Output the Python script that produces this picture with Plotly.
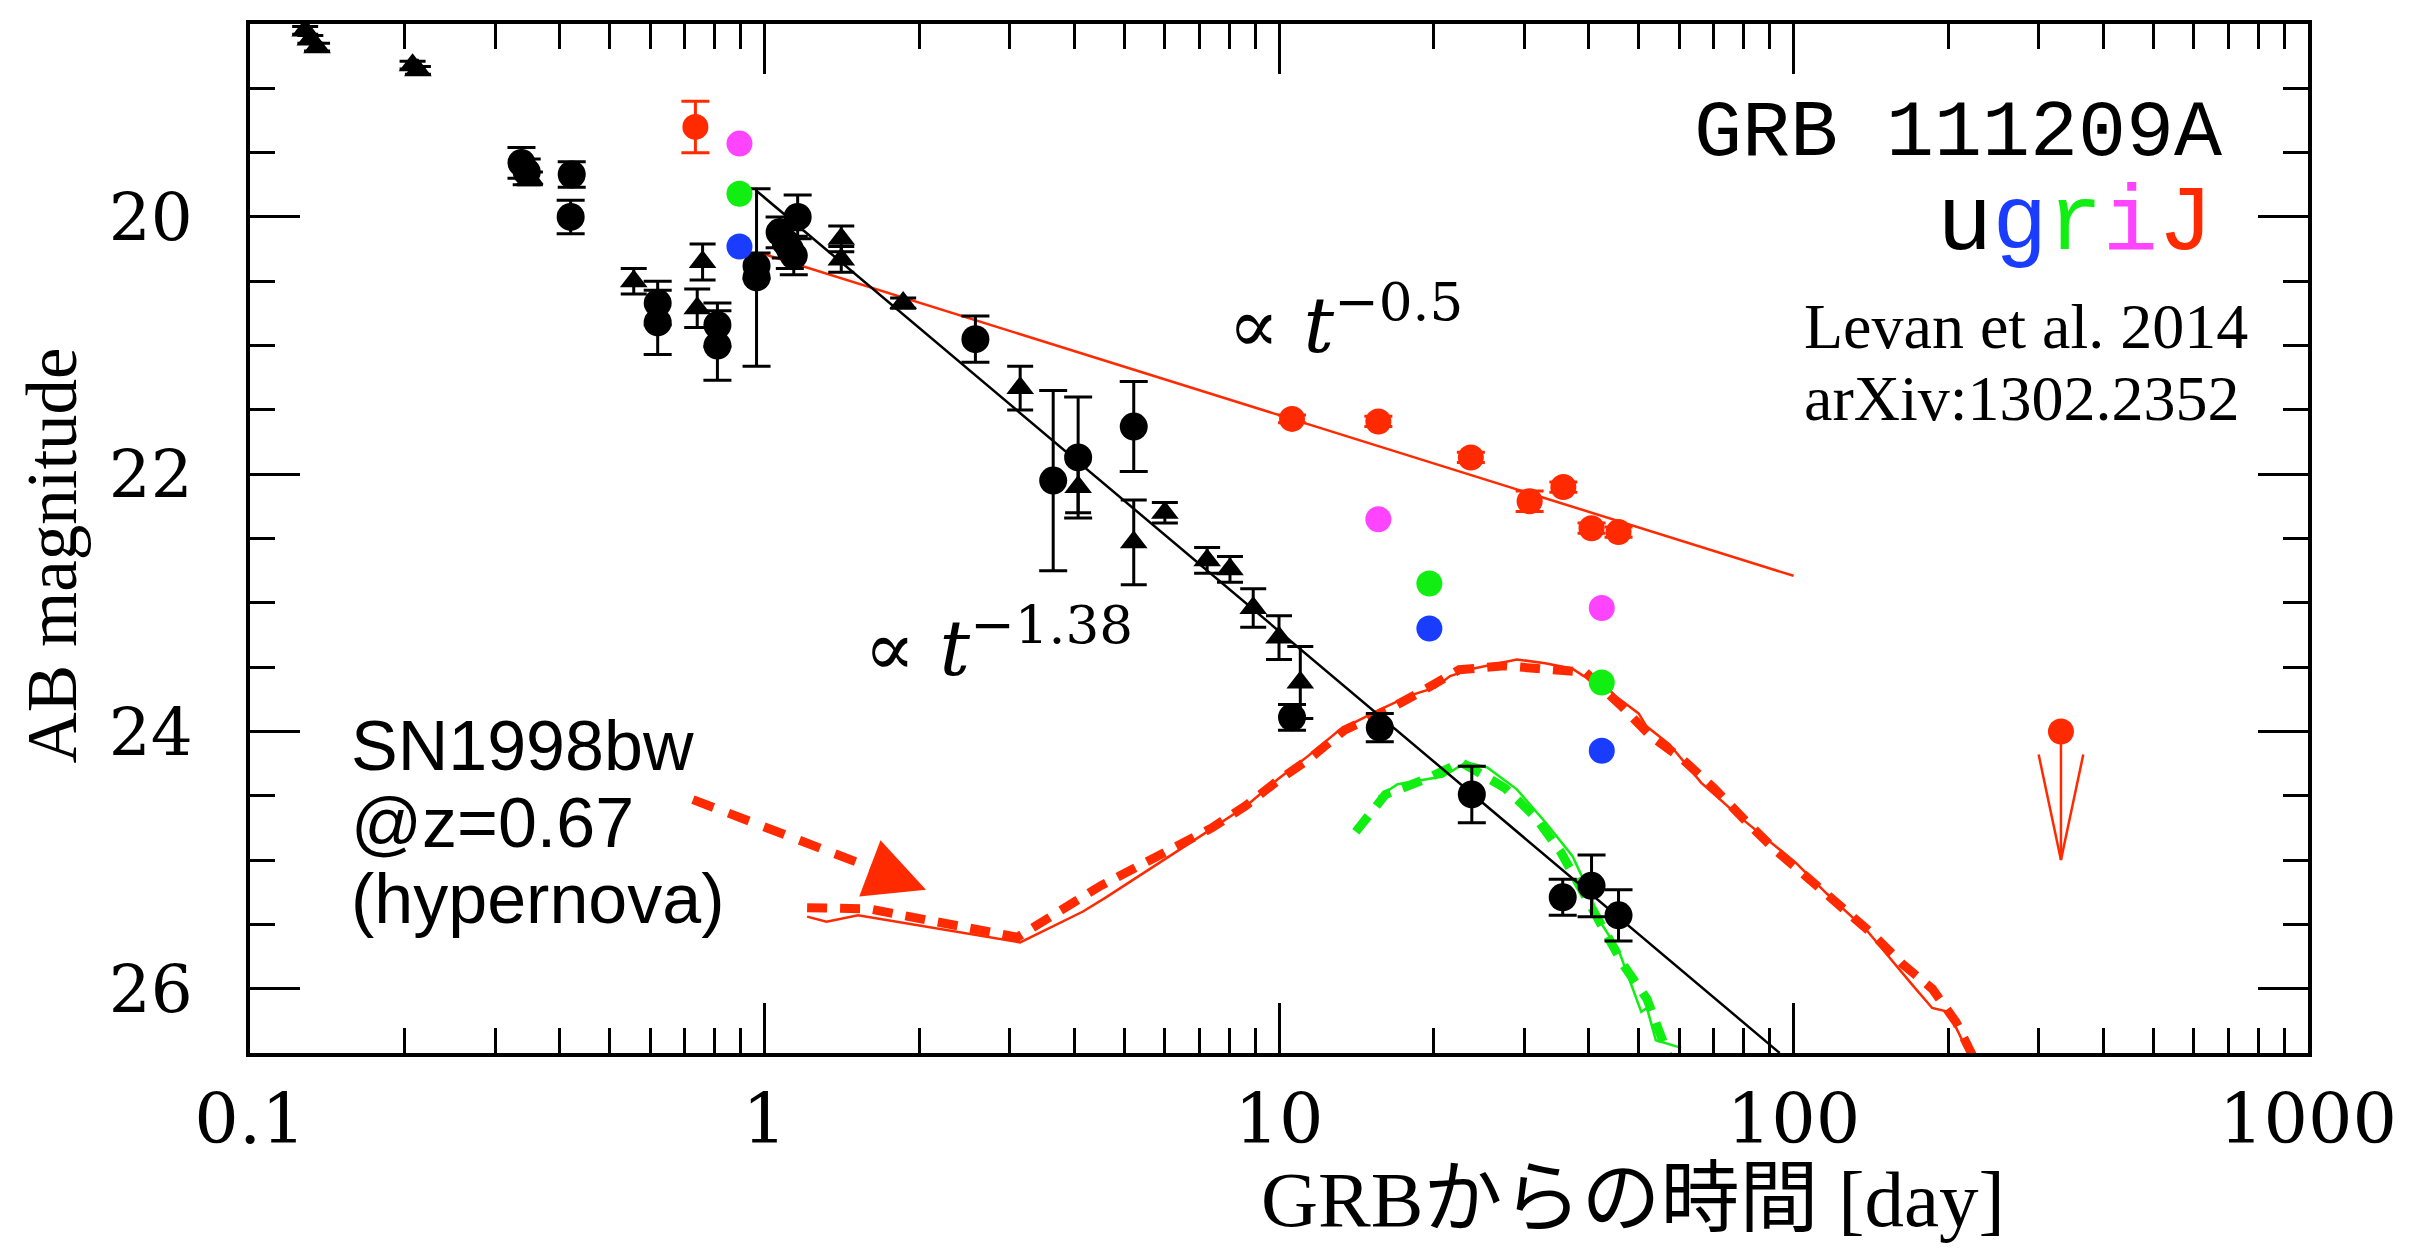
import numpy as np
import plotly.graph_objects as go

# ---------------- data ----------------
# black circles (optical/NIR afterglow, days, AB mag, error)
circ_t = [0.337, 0.345, 0.422, 0.42, 0.62, 0.62, 0.81, 0.81, 0.965, 0.965,
          1.07, 1.10, 1.12, 1.14, 1.16, 2.57, 3.64, 4.07, 5.22,
          10.6, 15.7, 23.7, 35.6, 40.5, 45.7]
circ_m = [19.58, 19.65, 19.67, 20.0, 20.67, 20.82, 20.84, 21.0, 20.38, 20.47,
          20.12, 20.2, 20.25, 20.3, 20.0, 20.95, 22.05, 21.87, 21.63,
          23.89, 23.97, 24.49, 25.29, 25.2, 25.43]
circ_e = [0.12, 0.1, 0.1, 0.13, 0.17, 0.25, 0.17, 0.27, 0.1, 0.69,
          0.12, 0.12, 0.15, 0.15, 0.17, 0.18, 0.7, 0.47, 0.35,
          0.1, 0.11, 0.22, 0.14, 0.24, 0.2]

# black triangles
tri_t = [0.128, 0.131, 0.135, 0.207, 0.212, 0.35, 0.557, 0.74, 0.758, 1.41, 1.41,
         1.86, 3.14, 4.07, 5.22, 6.0, 7.25, 8.03, 8.91, 10.0, 11.0]
tri_m = [18.55, 18.62, 18.68, 18.82, 18.86, 19.7, 20.5, 20.71, 20.35, 20.17, 20.33,
         20.67, 21.33, 22.1, 22.53, 22.30, 22.67, 22.74, 23.04, 23.27, 23.62]
tri_e = [0.03, 0.03, 0.03, 0.03, 0.03, 0.05, 0.1, 0.15, 0.14, 0.1, 0.1,
         0.04, 0.17, 0.2, 0.33, 0.08, 0.1, 0.1, 0.15, 0.17, 0.28]

# colour bands
J_t = [0.734, 10.6, 15.6, 23.6, 30.7, 35.7, 40.5, 45.7]
J_m = [19.30, 21.57, 21.59, 21.87, 22.21, 22.10, 22.42, 22.45]
J_e = [0.2, 0.03, 0.04, 0.04, 0.08, 0.04, 0.04, 0.04]
i_t = [0.894, 15.6, 42.4]
i_m = [19.43, 22.35, 23.04]
r_t = [0.894, 19.6, 42.4]
r_m = [19.82, 22.85, 23.62]
g_t = [0.894, 19.6, 42.4]
g_m = [20.23, 23.20, 24.15]

# J-band upper limit
Jlim_t = [331]
Jlim_m = [24.0]

# power-law fits
fit138_t = [0.96, 94]
fit138_m = [19.79, 26.5]
fit05_t = [1.0, 100]
fit05_m = [20.29, 22.79]

# SN1998bw @ z=0.67 template curves
snJ_solid_t = [1.21, 1.32, 1.52, 3.14, 4.16, 4.61, 7.0, 8.63, 9.96, 11.4, 13.1, 15.7, 18.0,
               20.1, 21.5, 23.9, 29.0, 32.9, 37.1, 39.1, 42.8, 44.9, 50.0, 51.8, 57.4,
               66.2, 78.9, 87.9, 101, 116, 139, 171, 186, 200, 225]
snJ_solid_m = [25.44, 25.48, 25.43, 25.64, 25.40, 25.29, 24.82, 24.58, 24.37, 24.19, 23.99,
               23.83, 23.72, 23.66, 23.57, 23.51, 23.44, 23.47, 23.51, 23.57, 23.63, 23.72,
               23.86, 23.96, 24.10, 24.40, 24.67, 24.82, 25.02, 25.26, 25.55, 25.98, 26.15,
               26.18, 26.6]
snJ_dash_t = [1.21, 1.6, 3.1, 4.5, 7.4, 8.6, 9.96, 11.4, 13.4, 16.3, 19.3, 22.4, 27.4,
              32.9, 39.4, 46.5, 52.6, 61, 70, 80, 92, 106, 122, 142, 163, 186, 207, 228]
snJ_dash_m = [25.37, 25.38, 25.60, 25.20, 24.75, 24.58, 24.38, 24.22, 23.99, 23.83, 23.67,
              23.52, 23.49, 23.51, 23.54, 23.81, 24.03, 24.22, 24.44, 24.68, 24.92, 25.13,
              25.35, 25.57, 25.81, 26.0, 26.26, 26.6]
snr_solid_t = [15.6, 17.0, 20.8, 23.1, 25.4, 29.0, 33.0, 37.2, 40.4, 41.8, 45.8, 50.6,
               51.9, 54.0, 60.5]
snr_solid_m = [24.51, 24.41, 24.35, 24.24, 24.28, 24.45, 24.71, 24.97, 25.28, 25.46, 25.71,
               26.18, 26.15, 26.40, 26.46]
snr_dash_t = [14.1, 16.1, 19.3, 22.6, 27.5, 31.4, 35.2, 42.4, 46.8, 51.9, 55.5, 57.5]
snr_dash_m = [24.78, 24.49, 24.37, 24.24, 24.44, 24.66, 24.93, 25.51, 25.82, 26.08, 26.36, 26.55]

# arrow pointing from label to SN curve (days, mag)
sn_arrow_t = [0.726, 1.85]
sn_arrow_m = [24.53, 25.15]
sn_arrow_head = (2.06, 25.23)

# axis ticks
x_ticks = [0.1, 1, 10, 100, 1000]
x_ticklabels = ["0.1", "1", "10", "100", "1000"]
y_ticks = [20, 22, 24, 26]

RED = "#ff2a00"
MAG = "#ff44ff"
GRN = "#11ee11"
BLU = "#1a3cff"
SERIF = "Liberation Serif"
NUMF = "DejaVu Serif"

fig = go.Figure()

# SN curves
fig.add_trace(go.Scatter(x=snJ_solid_t, y=snJ_solid_m, mode="lines",
                         line=dict(color=RED, width=2.5), hoverinfo="skip"))
fig.add_trace(go.Scatter(x=snJ_dash_t, y=snJ_dash_m, mode="lines",
                         line=dict(color=RED, width=9, dash="20px,13px"), hoverinfo="skip"))
fig.add_trace(go.Scatter(x=snr_solid_t, y=snr_solid_m, mode="lines",
                         line=dict(color=GRN, width=2.5), hoverinfo="skip"))
fig.add_trace(go.Scatter(x=snr_dash_t, y=snr_dash_m, mode="lines",
                         line=dict(color=GRN, width=9, dash="20px,13px"), hoverinfo="skip"))
# dashed arrow shaft
fig.add_trace(go.Scatter(x=sn_arrow_t, y=sn_arrow_m, mode="lines",
                         line=dict(color=RED, width=9, dash="22px,16px"), hoverinfo="skip"))

# power-law fits
fig.add_trace(go.Scatter(x=fit05_t, y=fit05_m, mode="lines",
                         line=dict(color=RED, width=2.5), hoverinfo="skip"))
fig.add_trace(go.Scatter(x=fit138_t, y=fit138_m, mode="lines",
                         line=dict(color="black", width=2.5), hoverinfo="skip"))

# upper limit arrow (derived from the limit value)
ul_t, ul_m = Jlim_t[0], Jlim_m[0]
fig.add_trace(go.Scatter(x=[ul_t, ul_t], y=[ul_m, ul_m + 1.0], mode="lines",
                         line=dict(color=RED, width=2.5), hoverinfo="skip"))
fig.add_trace(go.Scatter(x=[ul_t * 0.905, ul_t, ul_t * 1.105],
                         y=[ul_m + 0.18, ul_m + 1.0, ul_m + 0.18], mode="lines",
                         line=dict(color=RED, width=2.5), hoverinfo="skip"))
fig.add_trace(go.Scatter(x=Jlim_t, y=Jlim_m, mode="markers",
                         marker=dict(color=RED, size=26), hoverinfo="skip"))

# data points
err = lambda arr, w: dict(type="data", array=arr, visible=True, color="black",
                          thickness=3, width=w)
fig.add_trace(go.Scatter(x=tri_t, y=tri_m, mode="markers",
                         marker=dict(symbol="triangle-up", color="black", size=24),
                         error_y=err(tri_e, 13), hoverinfo="skip"))
fig.add_trace(go.Scatter(x=circ_t, y=circ_m, mode="markers",
                         marker=dict(symbol="circle", color="black", size=28),
                         error_y=err(circ_e, 14), hoverinfo="skip"))
fig.add_trace(go.Scatter(x=J_t, y=J_m, mode="markers",
                         marker=dict(color=RED, size=26),
                         error_y=dict(type="data", array=J_e, visible=True, color=RED,
                                      thickness=3, width=14), hoverinfo="skip"))
fig.add_trace(go.Scatter(x=i_t, y=i_m, mode="markers", marker=dict(color=MAG, size=26),
                         hoverinfo="skip"))
fig.add_trace(go.Scatter(x=r_t, y=r_m, mode="markers", marker=dict(color=GRN, size=26),
                         hoverinfo="skip"))
fig.add_trace(go.Scatter(x=g_t, y=g_m, mode="markers", marker=dict(color=BLU, size=26),
                         hoverinfo="skip"))

# ---------------- layout ----------------
# the page body adds an 8px offset; the figure is sized so that the plot lands
# at page pixels x 250..2308, y 21..1053
OFF = 8
W, H = 2424, 1240
L, T = 250 - OFF, 21 - OFF
R = W - (2308 - OFF)
B = H - (1053 - OFF)
PW, PH = W - L - R, H - T - B


def px(xp):
    return (xp - OFF - L) / PW


def py(yp):
    return (H - B - (yp - OFF)) / PH


x_minor = [m * 10.0 ** e for e in (-1, 0, 1, 2) for m in range(2, 10)]
y_minor = [18.5 + 0.5 * k for k in range(17) if (18.5 + 0.5 * k) not in y_ticks]

fig.update_layout(
    width=W, height=H,
    margin=dict(l=L, r=R, t=T, b=B),
    paper_bgcolor="white", plot_bgcolor="white",
    showlegend=False,
    xaxis=dict(type="log", range=[-1, 3], showgrid=False, zeroline=False,
               showline=True, linecolor="black", linewidth=4, mirror="allticks",
               ticks="inside", ticklen=50, tickwidth=2.5, tickcolor="black",
               tickvals=x_ticks, ticktext=x_ticklabels,
               tickfont=dict(family=NUMF, size=70, color="black"),
               ticklabelstandoff=2,
               minor=dict(ticks="inside", ticklen=25, tickwidth=2.5, tickcolor="black",
                          tickvals=x_minor, showgrid=False)),
    yaxis=dict(range=[26.5, 18.5], showgrid=False, zeroline=False,
               showline=True, linecolor="black", linewidth=4, mirror="allticks",
               ticks="inside", ticklen=50, tickwidth=2.5, tickcolor="black",
               tickvals=y_ticks, ticktext=[str(v) for v in y_ticks],
               tickfont=dict(family=NUMF, size=66, color="black"),
               ticklabelstandoff=40,
               minor=dict(ticks="inside", ticklen=25, tickwidth=2.5, tickcolor="black",
                          tickvals=y_minor, showgrid=False)),
)

ann = []


def add_text(text, xp, yp, size, family=SERIF, xanchor="left", yanchor="middle",
             color="black", angle=0):
    ann.append(dict(text=text, x=px(xp), y=py(yp), xref="paper", yref="paper",
                    xanchor=xanchor, yanchor=yanchor, showarrow=False, textangle=angle,
                    font=dict(family=family, size=size, color=color)))


add_text("AB magnitude", 52, 554, 71, angle=-90, xanchor="center")
add_text("GRBからの時間 [day]", 1633, 1200, 79,
         family="Liberation Serif, Noto Sans CJK JP", xanchor="center")
add_text("GRB 111209A", 2224, 131, 80, family="Liberation Mono", xanchor="right")
add_text('<span style="color:black">u</span><span style="color:%s">g</span>'
         '<span style="color:%s">r</span><span style="color:%s">i</span>'
         '<span style="color:%s">J</span>' % (BLU, GRN, MAG, RED),
         2215, 222, 92, family="Liberation Mono", xanchor="right")
add_text("Levan et al. 2014", 2250, 324, 64, xanchor="right")
add_text("arXiv:1302.2352", 2242, 397, 64, xanchor="right")
add_text("∝ <i>t</i><sup>−0.5</sup>", 1226, 318, 76, family=NUMF)
add_text("∝ <i>t</i><sup>−1.38</sup>", 862, 642, 76, family=NUMF)
add_text("SN1998bw", 349, 745, 70, family="Liberation Sans")
add_text("@z=0.67", 349, 822, 70, family="Liberation Sans")
add_text("(hypernova)", 349, 899, 70, family="Liberation Sans")

# arrow head for the SN label arrow
ann.append(dict(x=np.log10(sn_arrow_head[0]), y=sn_arrow_head[1], xref="x", yref="y",
                ax=-37, ay=-14, text="", showarrow=True, arrowhead=2, arrowsize=2.0,
                arrowwidth=6, arrowcolor=RED, standoff=0))

fig.update_layout(annotations=ann)

fig.write_html("out.html")
